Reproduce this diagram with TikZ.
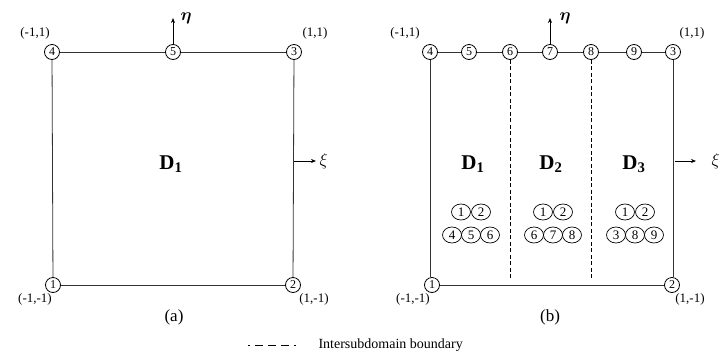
\documentclass[tikz,border=0pt]{standalone}
\usepackage{amsmath}
\usepackage{fontspec}
\setmainfont{Liberation Serif}
\usetikzlibrary{arrows.meta,positioning,calc,shapes.geometric}
\tikzset{
  gnode/.style={circle,draw,line width=0.8pt,inner sep=0pt,minimum size=15pt,
    font=\fontsize{12}{12}\selectfont},
  lnode/.style={ellipse,draw,line width=0.7pt,inner sep=0pt,minimum width=19pt,
    minimum height=16pt,font=\fontsize{13}{13}\selectfont},
  coord/.style={font=\fontsize{13}{13}\selectfont,inner sep=0pt},
  edge/.style={line width=0.8pt,black!80},
  ifline/.style={line width=1pt,dash pattern=on 4pt off 2.5pt},
  axis/.style={line width=0.7pt,-{Stealth[length=5pt,width=4pt]}},
  dom/.style={font=\fontsize{21}{21}\selectfont\bfseries},
  sublabel/.style={font=\fontsize{17}{17}\selectfont},
  sym/.style={font=\fontsize{16}{16}\selectfont}
}
\begin{document}
\begin{tikzpicture}[x=1pt,y=-1pt]
  \useasboundingbox (0,0) rectangle (724,357);
  % (a) one element
  \node[gnode] (a4) at (52,52) {4};
  \node[gnode] (a5) at (173,52) {5};
  \node[gnode] (a3) at (294,52) {3};
  \node[gnode] (a1) at (53,285) {1};
  \node[gnode] (a2) at (293,285) {2};
  \draw[edge] (a4) -- (a5) -- (a3);
  \draw[edge] (a4) -- (a1);
  \draw[edge] (a3) -- (a2);
  \draw[edge] (a1) -- (a2);
  \node[coord] at (35,33) {(-1,1)};
  \node[coord] at (315,33) {(1,1)};
  \node[coord] at (35,299) {(-1,-1)};
  \node[coord] at (314,299) {(1,-1)};
  \node[dom] at (171,164) {D$_\mathbf{1}$};
  \node[sublabel] at (174,317) {(a)};
  % axes (a)
  \coordinate (etaa) at (173,18);
  \coordinate (xia) at (294,161);
  \coordinate (xiaend) at (316,161);
  \draw[axis] (a5) -- (etaa) node[right=4pt,sym] {$\boldsymbol{\eta}$};
  \draw[axis] (xia) -- (xiaend) node[right=0pt,sym] {$\xi$};

  % (b) three subdomains
  \node[gnode] (b4) at (430,52) {4};
  \node[gnode] (b5) at (469,52) {5};
  \node[gnode] (b6) at (510,52) {6};
  \node[gnode] (b7) at (550,52) {7};
  \node[gnode] (b8) at (591,52) {8};
  \node[gnode] (b9) at (634,52) {9};
  \node[gnode] (b3) at (673,52) {3};
  \node[gnode] (b1) at (432,285) {1};
  \node[gnode] (b2) at (672,285) {2};
  \draw[edge] (b4) -- (b5) -- (b6) -- (b7) -- (b8) -- (b9) -- (b3);
  \draw[edge] (b4) -- (b4 |- b1.north);
  \draw[edge] (b3) -- (b3 |- b2.north);
  \draw[edge] (b1) -- (b2);
  \coordinate (d6) at (510,278);
  \coordinate (d8) at (591,278);
  \draw[ifline] (b6) -- (d6);
  \draw[ifline] (b8) -- (d8);
  \node[coord] at (405,33) {(-1,1)};
  \node[coord] at (692,33) {(1,1)};
  \node[coord] at (413,299) {(-1,-1)};
  \node[coord] at (690,299) {(1,-1)};
  \node[dom] at (473,164) {D$_\mathbf{1}$};
  \node[dom] at (551,164) {D$_\mathbf{2}$};
  \node[dom] at (634,164) {D$_\mathbf{3}$};
  \node[sublabel] at (550,317) {(b)};
  % local node numbers
  \foreach \cx/\k/\p/\q/\r in {471/1/4/5/6, 553/2/6/7/8, 635/3/3/8/9} {
    \node[lnode] (g\k a) at (\cx-10,212) {1};
    \node[lnode] (g\k b) at (\cx+10,212) {2};
    \node[lnode] (g\k c) at (\cx-19,235) {\p};
    \node[lnode] (g\k d) at (\cx,235) {\q};
    \node[lnode] (g\k e) at (\cx+19,235) {\r};
  }
  % axes (b)
  \coordinate (etab) at (550,18);
  \coordinate (xib) at (675,161);
  \coordinate (xibend) at (696,161);
  \draw[axis] (b7) -- (etab) node[right=6pt,sym] {$\boldsymbol{\eta}$};
  \draw[axis] (xib) -- (xibend) node[right=12pt,sym] {$\xi$};

  % legend
  \coordinate (lg1) at (248,345);
  \coordinate (lg2) at (296,345);
  \draw[line width=1pt,dash pattern=on 8pt off 5pt,dash phase=6pt] (lg1) -- (lg2);
  \node[anchor=west,font=\fontsize{14}{14}\selectfont] (lgtext) at (315,345) {Intersubdomain boundary};
\end{tikzpicture}
\end{document}
